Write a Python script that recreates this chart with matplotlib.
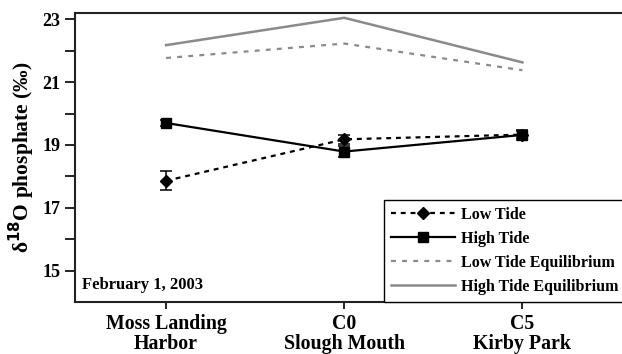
import matplotlib.pyplot as plt
from matplotlib.lines import Line2D
import numpy as np

# sites along the transect
sites = ['Moss Landing\nHarbor', 'C0\nSlough Mouth', 'C5\nKirby Park']

low_tide = [17.86, 19.18, 19.33]
low_tide_err = [0.30, 0.15, 0.10]
high_tide = [19.70, 18.79, 19.32]
high_tide_err = [0.08, 0.18, 0.15]
low_eq = [21.77, 22.23, 21.38]
high_eq = [22.18, 23.05, 21.63]

plt.rcParams['font.family'] = ['Liberation Serif', 'DejaVu Serif']
plt.rcParams['font.weight'] = 'bold'

fig = plt.figure(figsize=(6.22, 3.54), dpi=100)
ax = fig.add_axes([0.121, 0.147, 0.885, 0.816])

x = np.arange(len(sites))
gray = '#8a8a8a'
dash_low = (0, (2.2, 2.2))
dash_eq = (0, (2.2, 2.8))

ax.errorbar(x, low_tide, yerr=low_tide_err, color='black', lw=1.6,
            linestyle=dash_low, marker='D', markersize=6.5,
            capsize=4, elinewidth=1.1, capthick=1.1)
ax.errorbar(x, high_tide, yerr=high_tide_err, color='black', lw=1.6,
            marker='s', markersize=7, capsize=4, elinewidth=1.1,
            capthick=1.1)
ax.plot(x, low_eq, color=gray, lw=1.6, linestyle=dash_eq)
ax.plot(x, high_eq, color=gray, lw=1.8)

ax.set_xlim(-0.51, 2.58)
ax.set_ylim(14, 23.2)
ax.set_yticks([15, 17, 19, 21, 23])
ax.set_yticks(np.arange(15, 23, 1), minor=True)
ax.set_xticks(x)
ax.set_xticklabels(sites, fontsize=14.3, fontweight='bold', linespacing=0.95)
ax.tick_params(axis='y', labelsize=13, width=1.2, length=7, pad=3.5)
ax.tick_params(axis='y', which='minor', width=1.2, length=7)
ax.tick_params(axis='x', width=1.2, length=5, pad=4)
for lbl in ax.get_yticklabels():
    lbl.set_fontweight('bold')

ax.set_ylabel('δ$^{\\mathbf{18}}$O phosphate (‰)', fontsize=15.5,
              fontweight='bold', labelpad=4)

for s in ax.spines.values():
    s.set_linewidth(1.5)
    s.set_color('#222222')

ax.text(0.012, 0.03, 'February 1, 2003', transform=ax.transAxes,
        fontsize=12, fontweight='bold', ha='left', va='bottom')

handles = [
    Line2D([], [], color='black', lw=1.6, linestyle=dash_low, marker='D',
           markersize=6.5),
    Line2D([], [], color='black', lw=1.6, marker='s', markersize=7),
    Line2D([], [], color=gray, lw=1.6, linestyle=dash_eq),
    Line2D([], [], color=gray, lw=1.8),
]
labels = ['Low Tide', 'High Tide', 'Low Tide Equilibrium',
          'High Tide Equilibrium']
leg = ax.legend(handles, labels, loc='lower right', bbox_to_anchor=(1.0, 0.0),
                borderaxespad=0, fancybox=False, edgecolor='black',
                framealpha=1, handlelength=4.0,
                prop={'weight': 'bold', 'size': 11.5},
                labelspacing=0.5, borderpad=0.45, handletextpad=0.4)
leg.get_frame().set_linewidth(1.0)

fig.savefig('out.png', dpi=100)
